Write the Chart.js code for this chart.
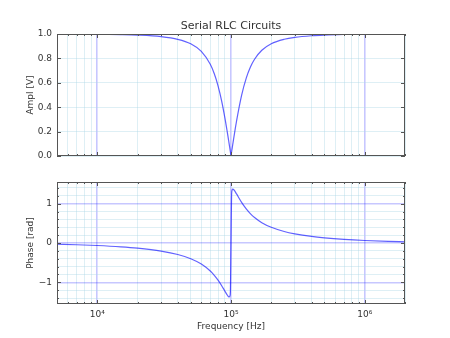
<!DOCTYPE html>
<html>
<head>
<meta charset="utf-8">
<script src="https://cdn.jsdelivr.net/npm/chart.js@4/dist/chart.umd.min.js"></script>
<style>
  html, body { margin: 0; padding: 0; background: #fff; }
  #wrap { position: relative; width: 450px; height: 338px; }
  #wrap canvas { position: absolute; left: 0; }
</style>
</head>
<body>
<div id="wrap">
  <canvas id="amp" width="450" height="170" style="top:0"></canvas>
  <canvas id="phase" width="450" height="168" style="top:170px"></canvas>
</div>
<script>
// Frequency sweep (Hz) and the two responses
const freqs = [5000, 7000, 10000, 15000, 20000, 30000, 40000, 50000, 60000, 70000,
  75000, 80000, 85000, 90000, 94000, 95000, 96000, 97000, 98000, 99000,
  100000, 101000, 102000, 103000, 104000, 106000, 110000, 120000, 130000, 140000,
  150000, 170000, 200000, 250000, 300000, 400000, 500000, 700000, 1000000, 1500000, 2000000];
const amplitude = [0.9995, 0.999, 0.9979, 0.9952, 0.9912, 0.9785, 0.9566, 0.9198, 0.8575, 0.7513,
  0.6736, 0.5752, 0.4544, 0.3133, 0.190, 0.1587, 0.127, 0.0953, 0.0638, 0.033,
  0.0, 0.0327, 0.0627, 0.0929, 0.1221, 0.1795, 0.286, 0.4972, 0.6384, 0.7310,
  0.7931, 0.8666, 0.9198, 0.9566, 0.9724, 0.9857, 0.9912, 0.9957, 0.9979, 0.9991, 0.9995];
const phase = [-0.0318, -0.0446, -0.0639, -0.0969, -0.1313, -0.2059, -0.2922, -0.3992, -0.5344, -0.7121,
  -0.8207, -0.944, -1.0797, -1.2219, -1.328, -1.3495, -1.3657, -1.3713, -1.3507, -1.2311,
  0, 1.228, 1.3488, 1.3709, 1.3674, 1.3358, 1.2473, 1.0331, 0.8662, 0.7416,
  0.6473, 0.5166, 0.3992, 0.2922, 0.2330, 0.1673, 0.1313, 0.0922, 0.0639, 0.0424, 0.0318];

const ampTicks = [0, 0.2, 0.4, 0.6, 0.8, 1.0];
const phaseTicks = [-1.4, -1.2, -1, -0.8, -0.6, -0.4, -0.2, 0, 0.2, 0.4, 0.6, 0.8, 1, 1.2, 1.4];
const decades = [3, 4, 5, 6];
const xMin = 5000, xMax = 2000000;

const FONT = 'DejaVu Sans';
const TEXT = '#333';
const EDGE = '#555';
const MAJOR_GRID = 'rgba(0,0,255,0.22)';
const MINOR_GRID = 'rgba(173,216,230,0.4)';
const LINE = 'rgba(0,0,255,0.62)';
const SUP = { 3: '³', 4: '⁴', 5: '⁵', 6: '⁶' };

const isDecade = v => Math.abs(Math.log10(v) - Math.round(Math.log10(v))) < 1e-9;
const isInt = v => Math.abs(v - Math.round(v)) < 1e-9;

function logTicks(scale) {
  const out = [];
  decades.forEach(d => {
    for (let m = 1; m <= 9; m++) {
      const v = m * Math.pow(10, d);
      if (v >= xMin && v <= xMax) out.push({ value: v });
    }
  });
  scale.ticks = out;
}

// matplotlib-style frame with ticks pointing inwards
const frame = {
  id: 'frame',
  afterDraw(chart, args, opts) {
    const { ctx, chartArea: a, scales } = chart;
    ctx.save();
    ctx.strokeStyle = EDGE;
    ctx.lineWidth = 1;
    ctx.beginPath();
    scales.x.ticks.forEach(t => {
      const px = Math.round(scales.x.getPixelForValue(t.value)) + 0.5;
      const len = isDecade(t.value) ? 4 : 2;
      ctx.moveTo(px, a.bottom); ctx.lineTo(px, a.bottom - len);
      ctx.moveTo(px, a.top); ctx.lineTo(px, a.top + len);
    });
    scales.y.ticks.forEach(t => {
      const py = Math.round(scales.y.getPixelForValue(t.value)) + 0.5;
      const len = opts.yMajor(t.value) ? 4 : 2;
      ctx.moveTo(a.left, py); ctx.lineTo(a.left + len, py);
      ctx.moveTo(a.right, py); ctx.lineTo(a.right - len, py);
    });
    ctx.stroke();
    ctx.strokeRect(Math.round(a.left) + 0.5, Math.round(a.top) + 0.5,
      Math.round(a.right - a.left) - 1, Math.round(a.bottom - a.top) - 1);
    ctx.restore();
  }
};

// top plot: the x axis sits on top and carries the figure title,
// so the title is centred over the plot area like in matplotlib
function xScale(bottomAxis) {
  return {
    type: 'logarithmic',
    position: bottomAxis ? 'bottom' : 'top',
    min: xMin,
    max: xMax,
    afterBuildTicks: logTicks,
    afterFit: s => { s.height = 34; },
    border: { display: false },
    grid: {
      drawTicks: false,
      color: c => isDecade(c.tick.value) ? MAJOR_GRID : MINOR_GRID,
      lineWidth: c => isDecade(c.tick.value) ? 1.6 : 1,
    },
    ticks: {
      display: bottomAxis,
      autoSkip: false,
      maxRotation: 0,
      padding: 5,
      color: TEXT,
      font: { family: FONT, size: 9 },
      callback: v => isDecade(v) ? '10' + SUP[Math.round(Math.log10(v))] : '',
    },
    title: bottomAxis ? {
      display: true,
      text: 'Frequency [Hz]',
      color: TEXT,
      font: { family: FONT, size: 9 },
      padding: { top: 0, bottom: 5.6 },
    } : {
      display: true,
      text: 'Serial RLC Circuits',
      color: TEXT,
      font: { family: FONT, size: 11 },
      padding: { top: 19.4, bottom: 0 },
    },
  };
}

function yScale(label, min, max, tickVals, isMajor, fmt) {
  return {
    min, max,
    afterBuildTicks: s => { s.ticks = tickVals.map(v => ({ value: v })); },
    afterFit: s => { s.width = 57; },
    border: { display: false },
    grid: {
      drawTicks: false,
      color: c => isMajor(c.tick.value) ? MAJOR_GRID : MINOR_GRID,
      lineWidth: c => isMajor(c.tick.value) ? 1.6 : 1,
    },
    ticks: {
      autoSkip: false,
      padding: 5,
      color: TEXT,
      font: { family: FONT, size: 9 },
      callback: fmt,
    },
    title: {
      display: true,
      text: label,
      color: TEXT,
      font: { family: FONT, size: 9 },
      padding: { top: 25.6, bottom: 0 },
    },
  };
}

function points(ys) {
  return freqs.map((f, i) => ({ x: f, y: ys[i] }));
}

const lineSet = ys => ({
  data: points(ys),
  borderColor: LINE,
  borderWidth: 1.2,
  pointRadius: 0,
  fill: false,
  cubicInterpolationMode: 'monotone',
});

new Chart(document.getElementById('amp'), {
  type: 'line',
  data: { datasets: [lineSet(amplitude)] },
  options: {
    responsive: false,
    animation: false,
    layout: { padding: { left: 0, right: 45, top: 0, bottom: 14 } },
    plugins: {
      legend: { display: false },
      tooltip: { enabled: false },
      frame: { yMajor: () => true },
    },
    scales: {
      x: xScale(false),
      y: yScale('Ampl [V]', 0, 1, ampTicks, () => false, v => v.toFixed(1)),
    },
  },
  plugins: [frame],
});

new Chart(document.getElementById('phase'), {
  type: 'line',
  data: { datasets: [lineSet(phase)] },
  options: {
    responsive: false,
    animation: false,
    layout: { padding: { left: 0, right: 45, top: 12, bottom: 0 } },
    plugins: {
      legend: { display: false },
      tooltip: { enabled: false },
      frame: { yMajor: isInt },
    },
    scales: {
      x: xScale(true),
      y: yScale('Phase [rad]', -1.55, 1.55, phaseTicks, isInt,
        v => isInt(v) ? String(Math.round(v)).replace('-', '\u2212') : ''),
    },
  },
  plugins: [frame],
});
</script>
</body>
</html>
